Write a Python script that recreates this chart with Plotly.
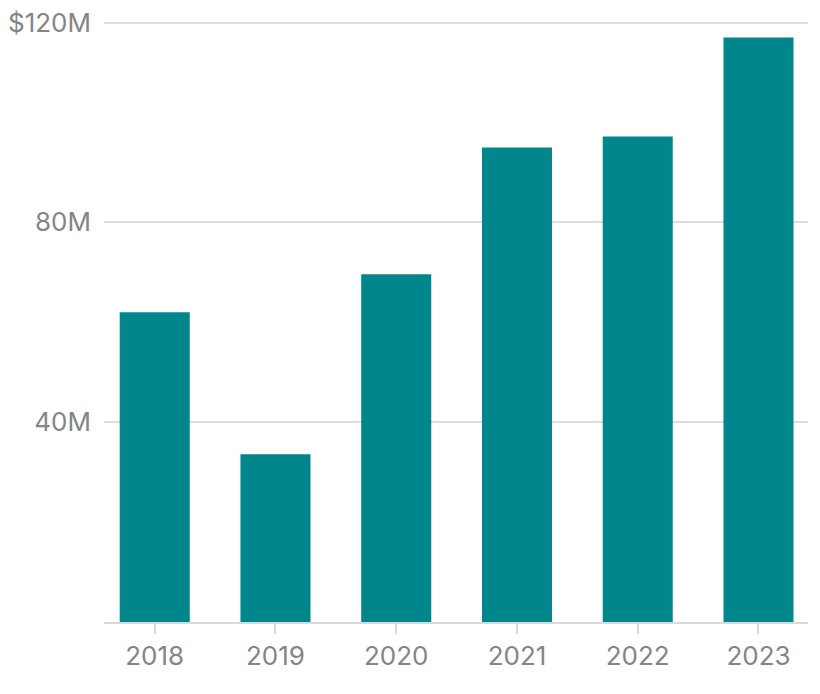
import plotly.graph_objects as go

years = ["2018", "2019", "2020", "2021", "2022", "2023"]
values = [62.0, 33.6, 69.6, 95.0, 97.2, 117.0]
y_tick_vals = [40, 80, 120]
y_tick_text = ["40M", "80M", "$120M"]

fig = go.Figure(
    go.Bar(
        x=years,
        y=values,
        marker=dict(color="#00868B", line=dict(width=0)),
        hoverinfo="skip",
    )
)

fig.update_layout(
    width=812,
    height=686,
    margin=dict(l=96, r=12, t=12.5, b=72),
    paper_bgcolor="white",
    plot_bgcolor="white",
    bargap=0.42,
    showlegend=False,
    font=dict(family="Inter", size=26, color="#858585"),
)

fig.update_xaxes(
    type="category",
    range=[-0.42, 5.41],
    showgrid=False,
    showline=True,
    linecolor="#d9d9d9",
    linewidth=1.5,
    ticks="outside",
    ticklen=10,
    tickcolor="#d9d9d9",
    tickwidth=1.5,
    tickfont=dict(family="Inter", size=26, color="#858585"),
    automargin=False,
)

fig.update_yaxes(
    range=[0, 120.3],
    tickvals=y_tick_vals,
    ticktext=y_tick_text,
    showgrid=True,
    gridcolor="#dddddd",
    gridwidth=1.5,
    zeroline=False,
    showline=False,
    ticks="",
    ticklabelstandoff=12,
    ticklabeloverflow="allow",
    automargin=False,
    tickfont=dict(family="Inter", size=26, color="#858585"),
)

fig.write_html("out.html")
